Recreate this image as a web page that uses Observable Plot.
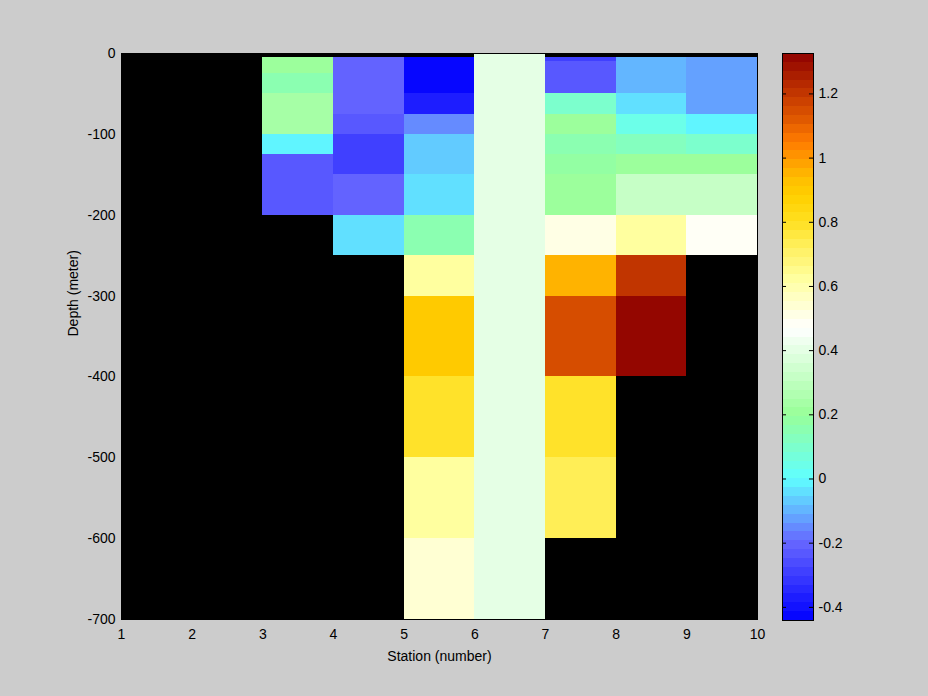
<!DOCTYPE html>
<html><head><meta charset="utf-8">
<script src="https://cdn.jsdelivr.net/npm/d3@7"></script>
<script src="https://cdn.jsdelivr.net/npm/@observablehq/plot@0.6"></script>
<style>
html,body{margin:0;padding:0;background:#cccccc;}
#fig{position:relative;width:928px;height:696px;background:#cccccc;overflow:hidden;font-family:"Liberation Sans",Arial,Helvetica,sans-serif;}
#main{position:absolute;left:0;top:0;}
#cbar{position:absolute;left:770px;top:0;}
</style></head><body><div id="fig"><div id="main"></div><div id="cbar"></div></div>
<script>
// Station grid (x) and depth cell edges (y, meters)
const stations = [1, 2, 3, 4, 5, 6, 7, 8, 9, 10];
const depthEdges = [0, -5, -10, -25, -50, -75, -100, -125, -150, -200, -250, -300, -400, -500, -600, -700];

// Values for each cell column (station i to i+1), one per depth interval; null = no data
const col1 = [null, null, null, null, null, null, null, null, null, null, null, null, null, null, null];
const col2 = [null, null, null, null, null, null, null, null, null, null, null, null, null, null, null];
const col3 = [null, 0.2, 0.2, 0.15, 0.245, 0.245, -0.02, -0.24, -0.24, null, null, null, null, null, null];
const col4 = [null, -0.2, -0.2, -0.2, -0.2, -0.24, -0.29, -0.29, -0.2, -0.044, null, null, null, null, null];
const col5 = [null, -0.43, -0.43, -0.43, -0.385, -0.156, -0.077, -0.077, -0.044, 0.14, 0.63, 0.9, 0.79, 0.63, 0.55];
const col6 = [0.40, 0.40, 0.40, 0.40, 0.40, 0.40, 0.40, 0.40, 0.40, 0.40, 0.40, 0.40, 0.40, 0.40, 0.40];
const col7 = [null, -0.28, -0.24, -0.24, 0.09, 0.2, 0.14, 0.18, 0.21, 0.506, 0.955, 1.14, 0.79, 0.745, null];
const col8 = [null, -0.1, -0.1, -0.1, -0.045, 0.05, 0.13, 0.21, 0.315, 0.63, 1.21, 1.31, null, null, null];
const col9 = [null, -0.124, -0.124, -0.124, -0.124, -0.02, 0.09, 0.21, 0.315, 0.494, null, null, null, null, null];
const columns = [col1, col2, col3, col4, col5, col6, col7, col8, col9];

// Tick labels
const xTicks = [1, 2, 3, 4, 5, 6, 7, 8, 9, 10];
const yTicks = [0, -100, -200, -300, -400, -500, -600, -700];
const cbTicks = [1.2, 1, 0.8, 0.6, 0.4, 0.2, 0, -0.2, -0.4];

// Color limits and colormap anchors (64-step map)
const cLimits = [-0.441, 1.326];
const nColors = 64;
const cmapValues = [-0.441, -0.2, 0, 0.2, 0.47, 0.62, 0.72, 0.8, 0.88, 0.93, 0.97, 1.0, 1.05, 1.12, 1.2, 1.326];
const cmapColors = ["#0000ff", "#6666ff", "#60ffff", "#99ff99", "#ffffff", "#ffffa0", "#fff060", "#ffe020",
                    "#ffd000", "#ffc000", "#ffaa00", "#ff9600", "#ff7c00", "#e05800", "#c23600", "#8e0000"];

// Build discrete colormap
const interp = d3.scaleLinear().domain(cmapValues).range(cmapColors).interpolate(d3.interpolateRgb).clamp(true);
const step = (cLimits[1] - cLimits[0]) / nColors;
const bands = d3.range(nColors).map(i => ({
  lo: cLimits[0] + i * step,
  hi: cLimits[0] + (i + 1) * step,
  mid: cLimits[0] + (i + 0.5) * step
}));
const bandColors = bands.map(b => interp(b.mid));
const thresholds = bands.slice(1).map(b => b.lo);
const colorOpts = {type: "threshold", domain: thresholds, range: bandColors};

// Cells
const cells = [];
columns.forEach((vals, i) => {
  vals.forEach((v, j) => {
    if (v != null) cells.push({x1: stations[i], x2: stations[i + 1], y1: depthEdges[j], y2: depthEdges[j + 1], value: v});
  });
});

const font = '"Liberation Sans", Arial, Helvetica, sans-serif';

const main = Plot.plot({
  width: 770, height: 696,
  marginLeft: 121, marginRight: 13, marginTop: 53, marginBottom: 77,
  style: {background: "transparent", color: "black", fontSize: "14px", fontFamily: font},
  x: {domain: [1, 10], ticks: xTicks, tickSize: 0, tickPadding: 10, tickFormat: d => String(d), label: null},
  y: {domain: [-700, 0], ticks: yTicks, tickSize: 0, tickPadding: 6, tickFormat: d => String(d), label: null},
  color: colorOpts,
  marks: [
    Plot.frame({fill: "black"}),
    Plot.rect(cells, {x1: "x1", x2: "x2", y1: "y1", y2: "y2", fill: "value", shapeRendering: "crispEdges"}),
    Plot.frame({stroke: "black"}),
    Plot.text(["Station (number)"], {text: d => d, frameAnchor: "bottom", dy: 37, lineAnchor: "middle", fill: "black"}),
    Plot.text(["Depth (meter)"], {text: d => d, frameAnchor: "left", dx: -48, rotate: -90, lineAnchor: "middle", fill: "black"})
  ]
});
document.getElementById("main").appendChild(main);

const cbar = Plot.plot({
  width: 158, height: 696,
  marginLeft: 12, marginRight: 115, marginTop: 53, marginBottom: 76,
  style: {background: "transparent", color: "black", fontSize: "14px", fontFamily: font},
  x: {domain: [0, 1], axis: null},
  y: {domain: cLimits, ticks: cbTicks, tickSize: 0, tickPadding: 5, tickFormat: d => String(d), axis: "right", label: null},
  color: colorOpts,
  marks: [
    Plot.rect(bands, {x1: 0, x2: 1, y1: "lo", y2: "hi", fill: "mid", shapeRendering: "crispEdges"}),
    Plot.ruleY(cbTicks, {x1: 0, x2: 0.13, stroke: "black"}),
    Plot.ruleY(cbTicks, {x1: 0.87, x2: 1, stroke: "black"}),
    Plot.frame({stroke: "black"})
  ]
});
document.getElementById("cbar").appendChild(cbar);
</script></body></html>
